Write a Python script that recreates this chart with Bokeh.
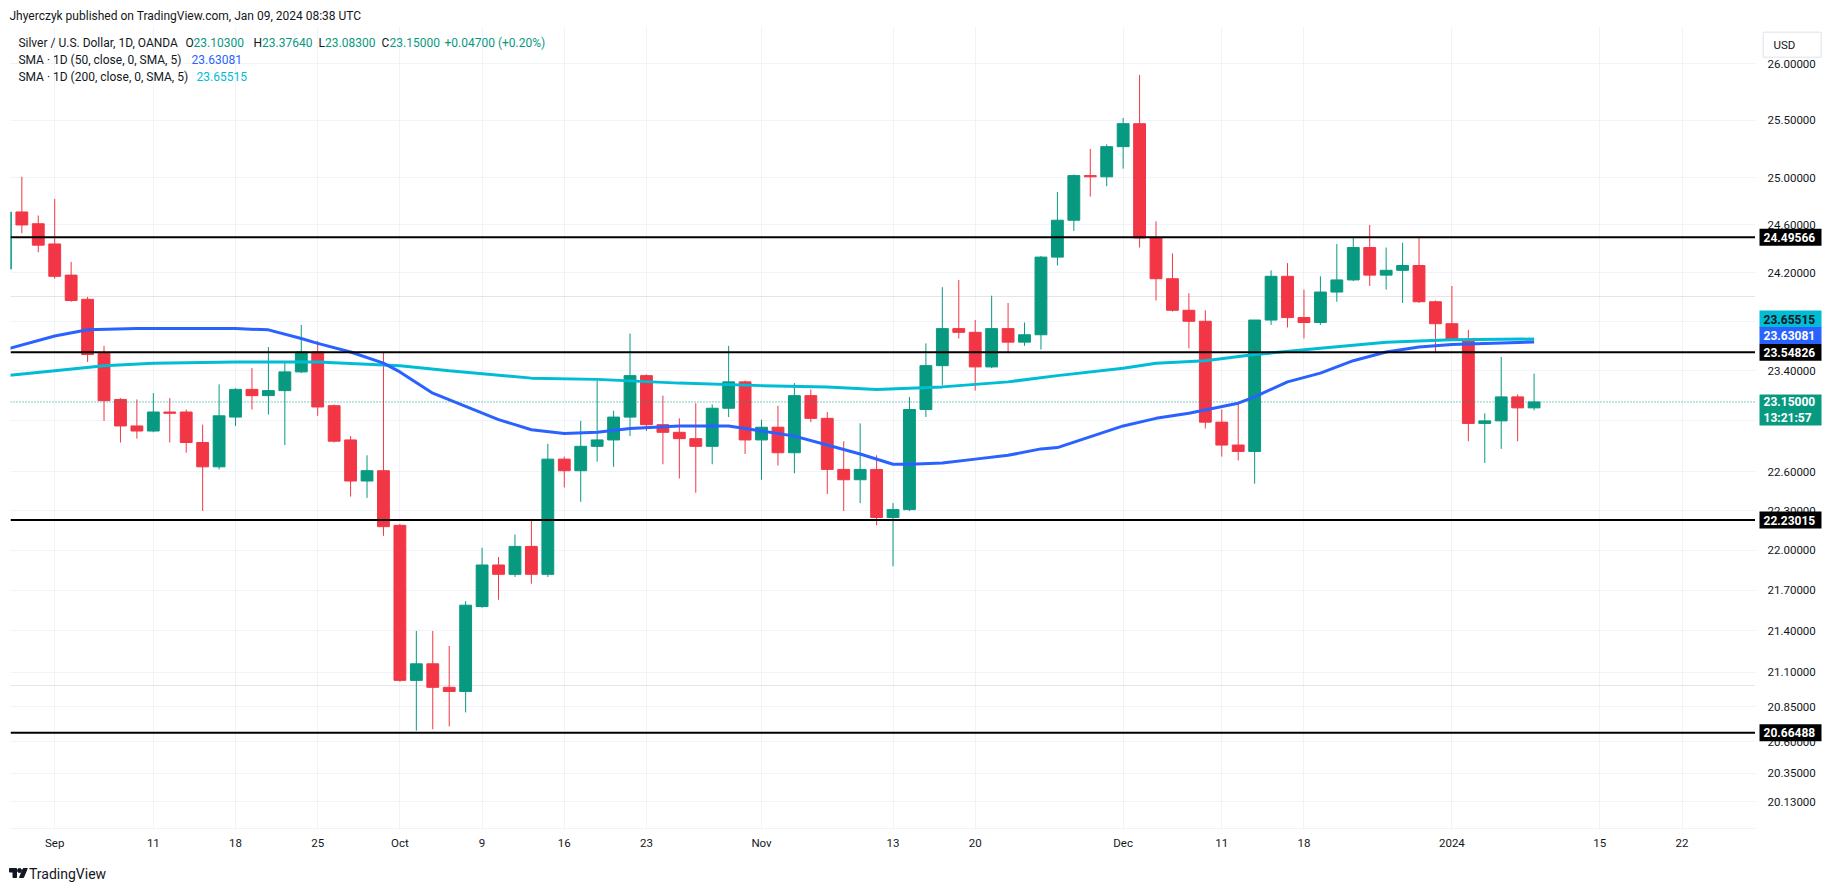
import math
import pandas as pd
from bokeh.plotting import figure
from bokeh.models import Range1d, FixedTicker, Span, Label, Grid, ColumnDataSource
from bokeh.layouts import column, row
from bokeh.embed import file_html
from bokeh.resources import INLINE
from bokeh.core.properties import value

# ---------------- data ----------------
dates = [
    "2023-08-29", "2023-08-30", "2023-08-31", "2023-09-01",
    "2023-09-04", "2023-09-05", "2023-09-06", "2023-09-07", "2023-09-08",
    "2023-09-11", "2023-09-12", "2023-09-13", "2023-09-14", "2023-09-15",
    "2023-09-18", "2023-09-19", "2023-09-20", "2023-09-21", "2023-09-22",
    "2023-09-25", "2023-09-26", "2023-09-27", "2023-09-28", "2023-09-29",
    "2023-10-02", "2023-10-03", "2023-10-04", "2023-10-05", "2023-10-06",
    "2023-10-09", "2023-10-10", "2023-10-11", "2023-10-12", "2023-10-13",
    "2023-10-16", "2023-10-17", "2023-10-18", "2023-10-19", "2023-10-20",
    "2023-10-23", "2023-10-24", "2023-10-25", "2023-10-26", "2023-10-27",
    "2023-10-30", "2023-10-31", "2023-11-01", "2023-11-02", "2023-11-03",
    "2023-11-06", "2023-11-07", "2023-11-08", "2023-11-09", "2023-11-10",
    "2023-11-13", "2023-11-14", "2023-11-15", "2023-11-16", "2023-11-17",
    "2023-11-20", "2023-11-21", "2023-11-22", "2023-11-23", "2023-11-24",
    "2023-11-27", "2023-11-28", "2023-11-29", "2023-11-30", "2023-12-01",
    "2023-12-04", "2023-12-05", "2023-12-06", "2023-12-07", "2023-12-08",
    "2023-12-11", "2023-12-12", "2023-12-13", "2023-12-14", "2023-12-15",
    "2023-12-18", "2023-12-19", "2023-12-20", "2023-12-21", "2023-12-22",
    "2023-12-26", "2023-12-27", "2023-12-28", "2023-12-29",
    "2024-01-02", "2024-01-03", "2024-01-04", "2024-01-05",
    "2024-01-08", "2024-01-09",
]
opens = [
    24.23, 24.71, 24.61, 24.44,
    24.18, 23.98, 23.54, 23.17, 22.96,
    22.92, 23.07, 23.07, 22.83, 22.64,
    23.03, 23.25, 23.20, 23.24, 23.39,
    23.55, 23.12, 22.85, 22.53, 22.61,
    22.19, 21.04, 21.16, 20.99, 20.96,
    21.58, 21.89, 21.82, 22.03, 21.82,
    22.70, 22.61, 22.80, 22.85, 23.03,
    23.36, 22.97, 22.91, 22.86, 22.80,
    23.10, 23.31, 22.85, 22.95, 22.75,
    23.20, 23.02, 22.62, 22.54, 22.62,
    22.25, 22.31, 23.09, 23.44, 23.74,
    23.71, 23.43, 23.74, 23.63, 23.69,
    24.33, 24.64, 25.02, 25.01, 25.27,
    25.47, 24.49, 24.15, 23.89, 23.80,
    22.99, 22.81, 22.76, 23.81, 24.17,
    23.83, 23.79, 24.04, 24.14, 24.41,
    24.18, 24.22, 24.26, 23.96,
    23.78, 23.65, 22.98, 23.00,
    23.19, 23.103,
]
highs = [
    24.76, 25.01, 24.68, 24.82,
    24.29, 24.00, 23.60, 23.18, 23.17,
    23.22, 23.18, 23.09, 22.97, 23.29,
    23.26, 23.42, 23.59, 23.47, 23.77,
    23.64, 23.13, 22.88, 22.73, 23.55,
    22.20, 21.40, 21.40, 21.29, 21.62,
    22.02, 21.95, 22.12, 22.24, 22.82,
    22.72, 23.00, 23.32, 23.08, 23.70,
    23.37, 23.20, 23.02, 23.14, 23.13,
    23.60, 23.32, 23.01, 23.12, 23.30,
    23.25, 23.07, 22.84, 22.98, 22.73,
    22.36, 23.19, 23.62, 24.08, 24.14,
    23.81, 24.01, 23.95, 23.79, 24.34,
    24.88, 25.03, 25.25, 25.29, 25.52,
    25.90, 24.63, 24.36, 24.03, 23.89,
    23.09, 23.15, 23.81, 24.22, 24.28,
    24.06, 24.17, 24.44, 24.49, 24.60,
    24.41, 24.45, 24.49, 23.97,
    24.09, 23.73, 23.06, 23.51,
    23.21, 23.3764,
]
lows = [
    24.20, 24.53, 24.37, 24.15,
    23.96, 23.47, 23.00, 22.83, 22.86,
    22.91, 22.83, 22.75, 22.30, 22.62,
    22.96, 23.09, 23.05, 22.81, 23.38,
    23.04, 22.83, 22.41, 22.40, 22.11,
    21.03, 20.68, 20.69, 20.71, 20.81,
    21.57, 21.63, 21.80, 21.75, 21.80,
    22.48, 22.37, 22.68, 22.64, 22.88,
    22.92, 22.66, 22.55, 22.44, 22.66,
    23.03, 22.74, 22.54, 22.65, 22.59,
    22.99, 22.43, 22.30, 22.36, 22.19,
    21.88, 22.30, 23.03, 23.28, 23.66,
    23.24, 23.42, 23.54, 23.60, 23.57,
    24.26, 24.55, 24.84, 24.93, 25.08,
    24.41, 23.97, 23.88, 23.58, 22.94,
    22.72, 22.69, 22.51, 23.77, 23.75,
    23.66, 23.77, 23.96, 24.13, 24.09,
    24.06, 23.95, 23.95, 23.54,
    23.64, 22.84, 22.67, 22.78,
    22.84, 23.083,
]
closes = [
    24.71, 24.60, 24.43, 24.17,
    23.97, 23.53, 23.16, 22.96, 22.92,
    23.07, 23.06, 22.83, 22.64, 23.04,
    23.25, 23.20, 23.24, 23.39, 23.55,
    23.11, 22.84, 22.53, 22.61, 22.18,
    21.04, 21.16, 20.99, 20.96, 21.59,
    21.89, 21.82, 22.03, 21.82, 22.70,
    22.61, 22.80, 22.85, 23.03, 23.36,
    22.97, 22.91, 22.86, 22.80, 23.10,
    23.31, 22.85, 22.95, 22.75, 23.20,
    23.02, 22.62, 22.54, 22.62, 22.25,
    22.31, 23.09, 23.44, 23.74, 23.71,
    23.43, 23.74, 23.63, 23.69, 24.33,
    24.64, 25.02, 25.01, 25.27, 25.47,
    24.49, 24.15, 23.89, 23.80, 22.99,
    22.81, 22.76, 23.81, 24.17, 23.83,
    23.79, 24.04, 24.14, 24.41, 24.18,
    24.22, 24.26, 23.96, 23.78,
    23.65, 22.98, 23.00, 23.19,
    23.103, 23.15,
]

sma50_dates = [
    "2023-08-29", "2023-09-01", "2023-09-05", "2023-09-08", "2023-09-13",
    "2023-09-18", "2023-09-20", "2023-09-22", "2023-09-25", "2023-09-27",
    "2023-09-29", "2023-10-02", "2023-10-04", "2023-10-10", "2023-10-12",
    "2023-10-16", "2023-10-18", "2023-10-20", "2023-10-25", "2023-10-30",
    "2023-11-01", "2023-11-03", "2023-11-07", "2023-11-09", "2023-11-13",
    "2023-11-14", "2023-11-16", "2023-11-20", "2023-11-22", "2023-11-24",
    "2023-11-27", "2023-12-01", "2023-12-05", "2023-12-07", "2023-12-12",
    "2023-12-13", "2023-12-15", "2023-12-19", "2023-12-21", "2023-12-26",
    "2023-12-28", "2024-01-02", "2024-01-04", "2024-01-09",
]
sma50_vals = [
    23.57, 23.68, 23.73, 23.74, 23.74,
    23.74, 23.73, 23.66, 23.62, 23.55,
    23.46, 23.39, 23.22, 23.01, 22.93,
    22.90, 22.91, 22.94, 22.96, 22.96,
    22.92, 22.88, 22.81, 22.74, 22.66,
    22.66, 22.67, 22.70, 22.73, 22.78,
    22.79, 22.96, 23.02, 23.06, 23.14,
    23.19, 23.31, 23.38, 23.48, 23.55,
    23.59, 23.61, 23.62, 23.63081,
]
sma200_dates = [
    "2023-08-29", "2023-09-01", "2023-09-06", "2023-09-11", "2023-09-18",
    "2023-09-25", "2023-10-02", "2023-10-05", "2023-10-12", "2023-10-18",
    "2023-10-25", "2023-11-01", "2023-11-07", "2023-11-10", "2023-11-14",
    "2023-11-16", "2023-11-22", "2023-11-27", "2023-12-01", "2023-12-05",
    "2023-12-08", "2023-12-13", "2023-12-19", "2023-12-26", "2024-01-02",
    "2024-01-09",
]
sma200_vals = [
    23.36, 23.40, 23.44, 23.46, 23.47,
    23.47, 23.44, 23.40, 23.34, 23.33,
    23.30, 23.28, 23.27, 23.25, 23.26,
    23.27, 23.31, 23.36, 23.42, 23.46,
    23.48, 23.53, 23.58, 23.63, 23.65,
    23.65515,
]

level_prices = [24.49566, 23.54826, 22.23015, 20.66488]
# price-scale marks: where each mark sits, and the text printed there
y_ticks = [20.18, 20.38, 20.6, 20.85, 21.1, 21.4, 21.7, 22.0, 22.3, 22.6,
           23.0, 23.4, 23.8, 24.2, 24.6, 25.0, 25.5, 26.0]
y_tick_labels = ["20.13000", "20.35000", "20.60000", "20.85000", "21.10000", "21.40000",
                 "21.70000", "22.00000", "22.30000", "22.60000", "23.00000", "23.40000",
                 "23.80000", "24.20000", "24.60000", "25.00000", "25.50000", "26.00000"]
x_tick_dates = ["2023-09-01", "2023-09-11", "2023-09-18", "2023-09-25", "2023-10-02",
                "2023-10-09", "2023-10-16", "2023-10-23", "2023-11-01", "2023-11-13",
                "2023-11-20", "2023-12-01", "2023-12-11", "2023-12-18", "2024-01-02",
                "2024-01-15", "2024-01-22"]
x_tick_labels = ["Sep", "11", "18", "25", "Oct", "9", "16", "23", "Nov", "13",
                 "20", "Dec", "11", "18", "2024", "15", "22"]
holidays = ["2023-12-25", "2024-01-01"]
countdown = "13:21:57"
currency = "USD"
title_text = "Jhyerczyk published on TradingView.com, Jan 09, 2024 08:38 UTC"
symbol_text = "Silver / U.S. Dollar, 1D, OANDA"
sma50_text = "SMA · 1D (50, close, 0, SMA, 5)"
sma200_text = "SMA · 1D (200, close, 0, SMA, 5)"

# ---------------- styles ----------------
UP, DOWN = "#089981", "#f23645"
BLUE, CYAN = "#2962ff", "#00bcd4"
INK = "#131722"
GRID = "#f0f3fa"
FONT = "Roboto"
W = 1835
FRAME_W, FRAME_H = 1745, 802
LEFT_PAD, BOTTOM_PAD = 10, 30
SCALE_W = W - LEFT_PAD - FRAME_W

# bar positions: trading days (no weekends, no Christmas / New Year)
axis_days = [d.strftime("%Y-%m-%d") for d in pd.bdate_range("2023-08-29", "2024-02-16")
             if d.strftime("%Y-%m-%d") not in holidays]
pos = {d: i for i, d in enumerate(axis_days)}

xs = [pos[d] for d in dates]
src = ColumnDataSource(dict(
    x=xs, high=highs, low=lows,
    top=[max(o, c) for o, c in zip(opens, closes)],
    bottom=[min(o, c) for o, c in zip(opens, closes)],
    color=[UP if c >= o else DOWN for o, c in zip(opens, closes)],
))

X0, X1 = 0.31, 106.47
Y0, Y1 = 19.997, 26.334
yr = Range1d(Y0, Y1)
PX_PER_LN = FRAME_H / math.log(Y1 / Y0)


def shifted(price, px_down):
    """price level that sits px_down screen pixels below `price` on the log scale"""
    return price * math.exp(-px_down / PX_PER_LN)


# ---------------- header (publication line) ----------------
hdr = figure(width=W, height=26, x_range=Range1d(0, W), y_range=Range1d(0, 26),
             toolbar_location=None, output_backend="svg", title=None,
             x_axis_type=None, y_axis_type=None, min_border=0)
hdr.outline_line_color = None
hdr.text(x=[9], y=[11], text=[title_text], text_font=value(FONT), text_font_size="12px",
         text_color=INK, text_baseline="middle", text_align="left")

# ---------------- main chart ----------------
p = figure(frame_width=FRAME_W, frame_height=FRAME_H, x_range=Range1d(X0, X1), y_range=yr,
           y_axis_type="log", y_axis_location=None,
           toolbar_location=None, output_backend="svg", title=None,
           min_border_left=LEFT_PAD, min_border_right=0, min_border_top=0,
           min_border_bottom=BOTTOM_PAD)
p.outline_line_color = None
p.background_fill_color = "white"
p.border_fill_color = "white"

xax = p.xaxis[0]
xax.ticker = FixedTicker(ticks=[pos[d] for d in x_tick_dates])
xax.major_label_overrides = {pos[d]: lab for d, lab in zip(x_tick_dates, x_tick_labels)}
xax.axis_line_color = None
xax.major_tick_line_color = None
xax.minor_tick_line_color = None
xax.major_tick_out = 0
xax.major_tick_in = 0
xax.major_label_standoff = 7
xax.major_label_text_font = FONT
xax.major_label_text_font_size = "11.5px"
xax.major_label_text_color = INK
p.xgrid.grid_line_color = GRID
p.add_layout(Grid(dimension=1, ticker=FixedTicker(ticks=y_ticks), grid_line_color=GRID))

p.segment(x0="x", y0="low", x1="x", y1="high", line_color="color", line_width=1, source=src)
p.vbar(x="x", width=0.72, top="top", bottom="bottom", fill_color="color",
       line_color="color", line_width=1, source=src)

p.line([pos[d] for d in sma200_dates], sma200_vals, line_color=CYAN, line_width=3)
p.line([pos[d] for d in sma50_dates], sma50_vals, line_color=BLUE, line_width=3)

for lv in level_prices:
    p.add_layout(Span(location=lv, dimension="width", line_color="black", line_width=2))
last_close = closes[-1]
p.add_layout(Span(location=last_close, dimension="width", line_color=UP,
                  line_width=1, line_dash="1 2"))


def lab(text, color, x_off, y_off):
    p.add_layout(Label(x=X0, y=Y1, x_offset=x_off, y_offset=y_off, text=text,
                       text_color=color, text_font=FONT, text_font_size="12px",
                       text_align="left", text_baseline="middle"))


# legend lines (top-left inside the pane)
o, h, l, c = opens[-1], highs[-1], lows[-1], closes[-1]
chg = c - closes[-2]
pct = chg / closes[-2] * 100
line1 = [(symbol_text, 17.9, INK), ("O", 185, INK), (f"{o:.5f}", 193, UP),
         ("H", 253, INK), (f"{h:.5f}", 261.5, UP), ("L", 318, INK), (f"{l:.5f}", 324.5, UP),
         ("C", 381, INK), (f"{c:.5f}", 389, UP), (f"{chg:+.5f} ({pct:+.2f}%)", 444, UP)]
for txt, px, col in line1:
    lab(txt, col, px - LEFT_PAD, -16.3)
lab(sma50_text, INK, 7.9, -33)
lab(f"{sma50_vals[-1]:.5f}", BLUE, 181, -33)
lab(sma200_text, INK, 7.9, -50)
lab(f"{sma200_vals[-1]:.5f}", CYAN, 186, -50)

# ---------------- price scale (right) ----------------
sc = figure(frame_width=SCALE_W, frame_height=FRAME_H, x_range=Range1d(0, SCALE_W), y_range=yr,
            y_axis_type="log", y_axis_location=None, x_axis_location=None,
            toolbar_location=None, output_backend="svg", title=None,
            min_border_left=0, min_border_right=0, min_border_top=0,
            min_border_bottom=BOTTOM_PAD)
sc.outline_line_color = None
sc.background_fill_color = "white"
sc.border_fill_color = "white"
sc.grid.visible = False

# tick labels
sc.text(x=[12] * len(y_ticks), y=y_ticks, text=y_tick_labels,
        text_font=value(FONT), text_font_size="11.5px", text_color=INK,
        text_baseline="middle", text_align="left")

# currency box
usd_y = shifted(Y1, 18.2)
sc.rect(x=[36.7], y=[usd_y], width=58, height=25, width_units="screen", height_units="screen",
        fill_color="white", line_color="#e0e3eb", line_width=1)
sc.text(x=[18], y=[usd_y], text=[currency], text_font=value(FONT), text_font_size="11.5px",
        text_color=INK, text_baseline="middle", text_align="left")

# price tags: (price, shift in px, box height, fill, text colour, lines)
tags = [(lv, 0, 17, "black", "white", [f"{lv:.5f}"]) for lv in level_prices]
tags += [
    (sma200_vals[-1], -20, 17, CYAN, INK, [f"{sma200_vals[-1]:.5f}"]),
    (sma50_vals[-1], -6.6, 17, BLUE, "white", [f"{sma50_vals[-1]:.5f}"]),
    (last_close, 8, 31, UP, "white", [f"{last_close:.5f}", countdown]),
]
for price, shift, hgt, fill, tcol, lines in tags:
    sc.rect(x=[35], y=[shifted(price, shift)], width=62, height=hgt,
            width_units="screen", height_units="screen", fill_color=fill, line_color=None)
    n = len(lines)
    for i, t in enumerate(lines):
        dy = shift + (i - (n - 1) / 2) * 16
        sc.text(x=[8], y=[shifted(price, dy)], text=[t], text_font=value(FONT),
                text_font_size="12px", text_font_style="bold", text_color=tcol,
                text_baseline="middle", text_align="left")

# ---------------- footer (logo) ----------------
ft = figure(width=W, height=33, x_range=Range1d(0, W), y_range=Range1d(0, 33),
            toolbar_location=None, output_backend="svg", title=None,
            x_axis_type=None, y_axis_type=None, min_border=0)
ft.outline_line_color = None
ft.patch([16, 12.5, 12.5, 9, 9, 16], [14, 14, 19.5, 19.5, 23, 23], color=INK)
ft.patch([23, 19, 22.75, 26.75], [14, 14, 23, 23], color=INK)
ft.circle(x=[19], y=[21], radius=2, color=INK)
ft.text(x=[28.5], y=[18], text=["TradingView"], text_font=value(FONT), text_font_size="14px",
        text_color=INK, text_baseline="middle", text_align="left")

layout = column(hdr, row(p, sc, spacing=0), ft, spacing=0)
open("out.html", "w").write(file_html(layout, INLINE))
